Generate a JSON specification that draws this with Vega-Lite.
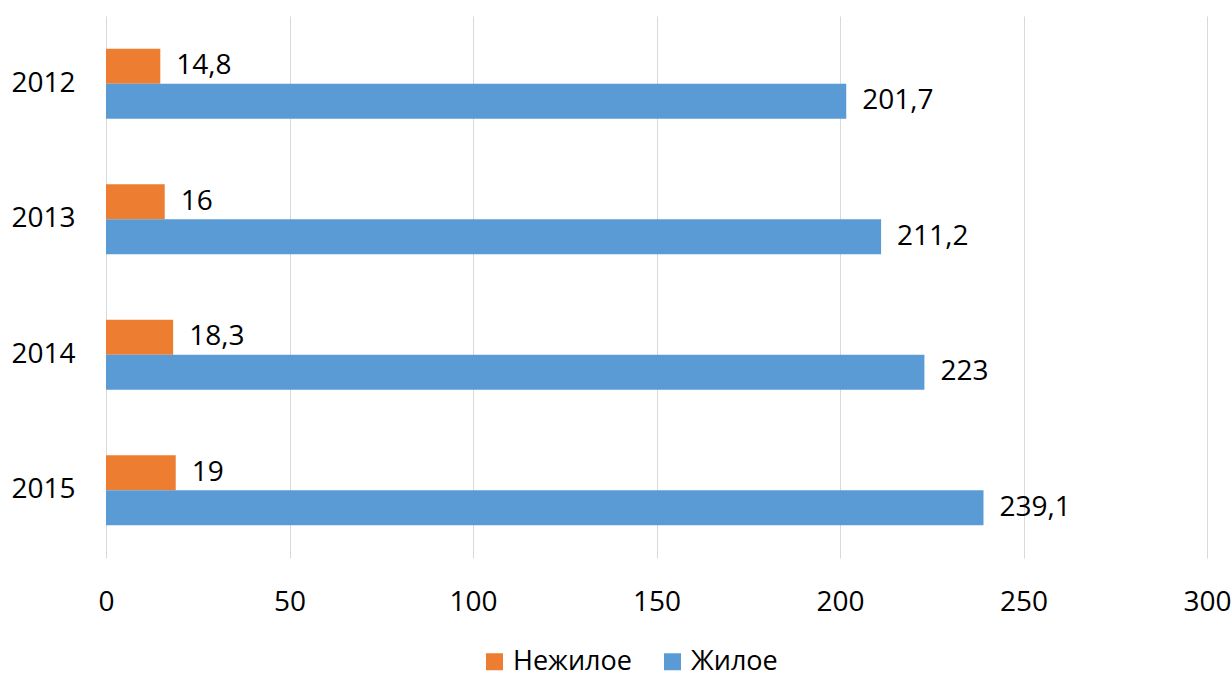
{
  "$schema": "https://vega.github.io/schema/vega-lite/v6.json",
  "autosize": "none",
  "width": 1101,
  "height": 542,
  "padding": {"left": 106, "top": 16, "right": 25, "bottom": 115},
  "background": "white",
  "config": {
    "view": {"stroke": null},
    "font": "Open Sans",
    "axis": {"labelFont": "Open Sans", "labelColor": "#000000", "titleFont": "Open Sans"},
    "legend": {"labelFont": "Open Sans", "labelColor": "#000000"}
  },
  "data": {
    "values": [
      {"year": "2012", "type": "Нежилое", "value": 14.8, "label": "14,8"},
      {"year": "2012", "type": "Жилое", "value": 201.7, "label": "201,7"},
      {"year": "2013", "type": "Нежилое", "value": 16, "label": "16"},
      {"year": "2013", "type": "Жилое", "value": 211.2, "label": "211,2"},
      {"year": "2014", "type": "Нежилое", "value": 18.3, "label": "18,3"},
      {"year": "2014", "type": "Жилое", "value": 223, "label": "223"},
      {"year": "2015", "type": "Нежилое", "value": 19, "label": "19"},
      {"year": "2015", "type": "Жилое", "value": 239.1, "label": "239,1"}
    ]
  },
  "encoding": {
    "y": {
      "field": "year",
      "type": "nominal",
      "scale": {"paddingInner": 0.483, "paddingOuter": 0.2415},
      "axis": {"title": null, "ticks": false, "domain": false, "labelFontSize": 28, "labelPadding": 31}
    },
    "yOffset": {
      "field": "type",
      "type": "nominal",
      "scale": {"domain": ["Нежилое", "Жилое"], "paddingInner": 0, "paddingOuter": 0}
    },
    "x": {
      "field": "value",
      "type": "quantitative",
      "scale": {"domain": [0, 300], "nice": false},
      "axis": {
        "title": null,
        "values": [0, 50, 100, 150, 200, 250, 300],
        "ticks": false,
        "domain": false,
        "grid": true,
        "gridColor": "#d9d9d9",
        "gridWidth": 1,
        "labelFontSize": 28,
        "labelPadding": 30,
        "labelFlush": false
      }
    }
  },
  "layer": [
    {
      "mark": {"type": "bar"},
      "encoding": {
        "color": {
          "field": "type",
          "type": "nominal",
          "scale": {"domain": ["Нежилое", "Жилое"], "range": ["#ED7D31", "#5B9BD5"]},
          "legend": {
            "title": null,
            "orient": "none",
            "direction": "horizontal",
            "legendX": 375,
            "legendY": 632,
            "symbolType": "square",
            "symbolSize": 289,
            "symbolStrokeWidth": 0,
            "labelFontSize": 27,
            "labelOffset": 5,
            "labelLimit": 300,
            "columnPadding": 27
          }
        }
      }
    },
    {
      "mark": {"type": "text", "align": "left", "baseline": "middle", "dx": 16, "fontSize": 28, "color": "#000000"},
      "encoding": {
        "text": {"field": "label", "type": "nominal"}
      }
    }
  ]
}
